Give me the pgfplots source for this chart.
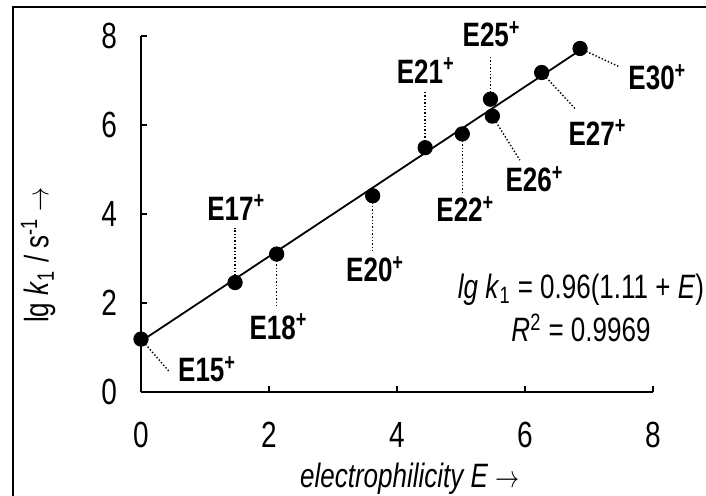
\documentclass[border=0pt]{standalone}
\usepackage{pgfplots}
\pgfplotsset{compat=1.18}
\usepackage{fontspec}
\setmainfont{Liberation Sans}
\newcommand{\tall}[1]{\scalebox{1}[1.3]{#1}}
\newcommand{\lab}[1]{\tall{\textbf{E#1}\textsuperscript{\textbf{+}}}}
\begin{document}
\begin{tikzpicture}
\begin{axis}[
  x=32pt, y=22.25pt,
  xmin=0, xmax=8, ymin=0, ymax=8,
  axis x line*=bottom, axis y line*=left,
  axis line style={line width=0.9pt,-},
  tick align=inside, major tick length=2.8pt,
  tick style={line width=0.9pt, black},
  xtick={0,2,...,8}, ytick={0,2,...,8},
  /pgf/number format/assume math mode=true,
  xticklabel={\tall{\pgfmathprintnumber{\tick}}},
  yticklabel={\tall{\pgfmathprintnumber{\tick}}},
  ticklabel style={font=\fontsize{14}{16}\selectfont},
  xticklabel style={yshift=-11.5pt},
  yticklabel style={xshift=-8.5pt},
  xlabel={\tall{\textit{electrophilicity E} $\rightarrow$}},
  ylabel={\tall{lg \textit{k}\textsubscript{1} / s\textsuperscript{-1} $\rightarrow$}},
  label style={font=\fontsize{13}{15}\selectfont},
  xlabel style={at={(axis description cs:0.525,-0.245)}, anchor=center},
  ylabel style={at={(axis description cs:-0.201,0.385)}, anchor=center},
  clip=false,
]
% regression line
\addplot[black, line width=0.9pt] coordinates {(0,1.14) (6.86,7.68)};
% leader lines
\addplot[black, densely dotted, line width=0.7pt] coordinates {(0,1.19) (0.434,0.47)};
\addplot[black, densely dotted, line width=0.7pt] coordinates {(1.47,2.46) (1.47,3.69)};
\addplot[black, densely dotted, line width=0.7pt] coordinates {(2.12,3.10) (2.12,1.88)};
\addplot[black, densely dotted, line width=0.7pt] coordinates {(3.62,4.41) (3.62,3.175)};
\addplot[black, densely dotted, line width=0.7pt] coordinates {(4.44,5.49) (4.44,6.75)};
\addplot[black, densely dotted, line width=0.7pt] coordinates {(5.02,5.80) (5.02,4.43)};
\addplot[black, densely dotted, line width=0.7pt] coordinates {(5.46,6.58) (5.46,7.57)};
\addplot[black, densely dotted, line width=0.7pt] coordinates {(5.49,6.20) (5.92,5.21)};
\addplot[black, densely dotted, line width=0.7pt] coordinates {(6.26,7.18) (6.80,6.34)};
\addplot[black, densely dotted, line width=0.7pt] coordinates {(6.86,7.72) (7.47,7.31)};
% data points
\addplot[only marks, mark=*, mark size=3.6pt, black] coordinates {
  (0,1.19) (1.47,2.46) (2.12,3.10) (3.62,4.41) (4.44,5.49)
  (5.02,5.80) (5.46,6.58) (5.49,6.20) (6.26,7.18) (6.86,7.72)};
% point labels
\begin{scope}[every node/.style={font=\fontsize{13}{15}\selectfont, inner sep=0pt, anchor=base west}]
\node at (axis cs:0.575,0.23) {\lab{15}};
\node at (axis cs:1.03,3.865) {\lab{17}};
\node at (axis cs:1.69,1.19) {\lab{18}};
\node at (axis cs:3.20,2.48) {\lab{20}};
\node at (axis cs:3.99,6.94) {\lab{21}};
\node at (axis cs:4.61,3.83) {\lab{22}};
\node at (axis cs:5.02,7.76) {\lab{25}};
\node at (axis cs:5.69,4.50) {\lab{26}};
\node at (axis cs:6.675,5.55) {\lab{27}};
\node at (axis cs:7.61,6.79) {\lab{30}};
\end{scope}
\node[font=\fontsize{13}{15}\selectfont, inner sep=0pt, anchor=base] at (axis cs:6.875,2.105)
  {\tall{\textit{lg k}\textsubscript{1} = 0.96(1.11 + \textit{E})}};
\node[font=\fontsize{13}{15}\selectfont, inner sep=0pt, anchor=base] at (axis cs:6.875,1.13)
  {\tall{\textit{R}\textsuperscript{2} = 0.9969}};
% frame and page extent
\draw[line width=1.1pt] (axis cs:-2.0,-3) |- (axis cs:9.5,8.652);
\coordinate (bl) at (axis cs:-2.203,-2.315);
\coordinate (tr) at (axis cs:8.828,8.809);
\end{axis}
\pgfresetboundingbox
\useasboundingbox (bl) rectangle (tr);
\end{tikzpicture}
\end{document}
